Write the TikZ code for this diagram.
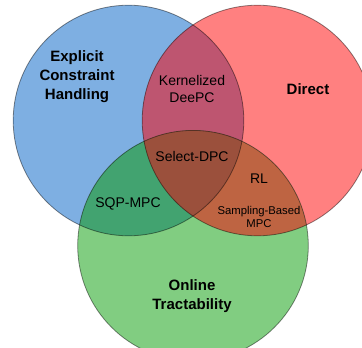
\documentclass[tikz,border=0pt]{standalone}
\usepackage{fontspec}
\setmainfont{Liberation Sans}
\definecolor{cb}{RGB}{126,175,226}
\definecolor{cr}{RGB}{255,128,128}
\definecolor{cg}{RGB}{129,205,129}
\definecolor{cbr}{RGB}{190,85,112}
\definecolor{cbg}{RGB}{66,163,112}
\definecolor{crg}{RGB}{190,100,66}
\definecolor{call}{RGB}{155,80,60}
\begin{document}
\begin{tikzpicture}[x=1pt,y=-1pt,
  setlabel/.style={align=center,inner sep=0pt,font=\fontsize{15}{19}\selectfont\bfseries},
  itemlabel/.style={align=center,inner sep=0pt,font=\fontsize{14}{17}\selectfont},
  smalllabel/.style={align=center,inner sep=0pt,font=\fontsize{11.3}{13}\selectfont},
  rim/.style={draw=black,draw opacity=0.45,line width=0.8pt}]
\def\rr{115.3pt}
\fill[white] (0,0) rectangle (362,348);
\useasboundingbox (0,0) rectangle (362,348);
\coordinate (B) at (128.5,120.5);
\coordinate (R) at (257.5,120.5);
\coordinate (G) at (193,245.7);
\fill[cb] (B) circle (\rr);
\fill[cr] (R) circle (\rr);
\fill[cg] (G) circle (\rr);
\begin{scope}\clip (B) circle (\rr); \fill[cbr] (R) circle (\rr); \end{scope}
\begin{scope}\clip (B) circle (\rr); \fill[cbg] (G) circle (\rr); \end{scope}
\begin{scope}\clip (R) circle (\rr); \fill[crg] (G) circle (\rr); \end{scope}
\begin{scope}\clip (B) circle (\rr); \clip (R) circle (\rr); \fill[call] (G) circle (\rr); \end{scope}
\draw[rim] (B) circle (\rr);
\draw[rim] (R) circle (\rr);
\draw[rim] (G) circle (\rr);
\node[setlabel] (ech) at (77,76.5) {Explicit\\Constraint\\Handling};
\node[setlabel] (dir) at (308,89) {Direct};
\node[setlabel] (ot) at (192,296.5) {Online\\Tractability};
\node[itemlabel] (kd) at (192,88.5) {Kernelized\\DeePC};
\node[itemlabel] (sd) at (192,156) {Select-DPC};
\node[itemlabel] (rl) at (259,179) {RL};
\node[itemlabel] (sqp) at (128,204) {SQP-MPC};
\node[smalllabel] (sb) at (259,216.5) {Sampling-Based\\MPC};
\end{tikzpicture}
\end{document}
